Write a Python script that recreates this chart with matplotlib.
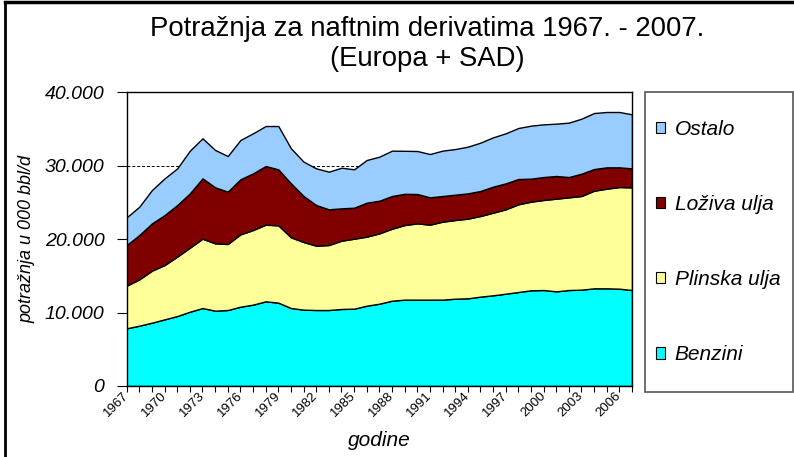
import matplotlib
matplotlib.use("Agg")
import matplotlib.pyplot as plt
from matplotlib.patches import Rectangle, Patch
from matplotlib.lines import Line2D
from matplotlib.transforms import ScaledTranslation
import numpy as np

years = list(range(1967, 2008))
benzini = [7850, 8210, 8620, 9070, 9520, 10110, 10610, 10250, 10340, 10790,
           11070, 11520, 11340, 10610, 10390, 10340, 10340, 10480, 10520, 10930,
           11200, 11610, 11750, 11750, 11750, 11750, 11880, 11930, 12160, 12340,
           12560, 12790, 13020, 13060, 12880, 13060, 13110, 13290, 13290, 13240, 13060]
plinska = [5800, 6300, 7070, 7390, 8080, 8710, 9430, 9160, 8980, 9840,
           10150, 10430, 10520, 9620, 9200, 8750, 8840, 9290, 9520, 9390,
           9570, 9790, 10150, 10380, 10200, 10610, 10700, 10840, 10970, 11240,
           11480, 11930, 12060, 12250, 12610, 12610, 12740, 13280, 13560, 13830, 13970]
loziva = [5530, 6030, 6440, 6800, 7020, 7390, 8210, 7620, 7120, 7490,
          7710, 7980, 7620, 7340, 6260, 5530, 4860, 4400, 4220, 4620,
          4440, 4450, 4250, 3990, 3720, 3490, 3450, 3440, 3400, 3540,
          3530, 3440, 3130, 3120, 3080, 2760, 3040, 2950, 2900, 2680, 2580]
ostalo = [3770, 3860, 4540, 4990, 4990, 5810, 5450, 5080, 4850, 5350,
          5450, 5440, 5890, 4770, 4670, 4990, 5120, 5530, 5220, 5810,
          5990, 6170, 5850, 5850, 5890, 6170, 6210, 6350, 6580, 6710,
          6810, 6940, 7210, 7170, 7120, 7400, 7480, 7620, 7530, 7530, 7350]

series_names = ["Benzini", "Plinska ulja", "Loživa ulja", "Ostalo"]
series_colors = ["#00FFFF", "#FFFF99", "#800000", "#99CCFF"]
yticks = [0, 10000, 20000, 30000, 40000]
ytick_labels = ["0", "10.000", "20.000", "30.000", "40.000"]
xtick_years = list(range(1967, 2007, 3))

title = "Potražnja za naftnim derivatima 1967. - 2007.\n(Europa + SAD)"
ylabel = "potražnja u 000 bbl/d"
xlabel = "godine"

plt.rcParams['font.family'] = ['Liberation Sans', 'DejaVu Sans']

W, H = 794, 457
fig = plt.figure(figsize=(W/100, H/100), dpi=100)
ax = fig.add_axes([126.7/W, 1-386/H, (632-126.7)/W, (386-92)/H])

data = [benzini, plinska, loziva, ostalo]
x = np.array(years)
ax.stackplot(x, *data, colors=series_colors, labels=series_names,
             edgecolor='black', linewidth=1.0, zorder=2)

ax.set_xlim(years[0], years[-1])
ax.set_ylim(0, 40000)
ax.set_yticks(yticks)
ax.set_yticklabels(ytick_labels, fontsize=14, fontstyle='italic')
ax.yaxis.grid(True, linestyle=(0, (3, 2)), color='black', linewidth=0.7, zorder=0)
ax.set_axisbelow(True)
ax.set_xticks(years)
ax.set_xticklabels([str(y) if y in xtick_years else "" for y in years],
                   rotation=45, ha='right', va='center', rotation_mode='anchor',
                   fontsize=9.5)
shift = ScaledTranslation(-10/100, -5/100, fig.dpi_scale_trans)
for lab in ax.get_xticklabels():
    lab.set_transform(lab.get_transform() + shift)
ax.tick_params(axis='x', length=4, width=0.8, direction='out', pad=2)
ax.tick_params(axis='y', length=7, width=0.8, direction='out', pad=9)
for s in ax.spines.values():
    s.set_linewidth(1.0)
    s.set_color('black')

ax.set_ylabel(ylabel, fontsize=13, fontstyle='italic')
ax.yaxis.set_label_coords(-0.181, 0.5)
ax.set_xlabel(xlabel, fontsize=15, fontstyle='italic')
ax.xaxis.set_label_coords(0.5, -(440-386)/294)
ax.xaxis.label.set_va('center')

fig.text(427/W, 1-44/H, title, ha='center', va='center', fontsize=19.8,
         linespacing=1.25)

# legend frame
fig.patches.append(Rectangle((645/W, 1-392/H), (793-645)/W, (392-92)/H,
                             transform=fig.transFigure, fill=True, facecolor='white',
                             edgecolor='#555555', linewidth=1.2, zorder=1))
handles = [Patch(facecolor=c, edgecolor='black', linewidth=0.8) for c in series_colors]
leg = fig.legend(handles[::-1], series_names[::-1], loc='center left',
                 bbox_to_anchor=(656/W, 1-242/H), frameon=False,
                 prop={'size': 15, 'style': 'italic'}, handlelength=0.45,
                 handleheight=0.45, handletextpad=0.45, labelspacing=2.7,
                 borderpad=0, borderaxespad=0)
leg.set_zorder(3)

# outer frame (left and top edges visible)
fig.add_artist(Line2D([5/W, 5/W], [0, 1-2/H], transform=fig.transFigure,
                      color='black', linewidth=2))
fig.add_artist(Line2D([5/W, 1], [1-2/H, 1-2/H], transform=fig.transFigure,
                      color='black', linewidth=2.5))

fig.savefig("out.png", dpi=100)
